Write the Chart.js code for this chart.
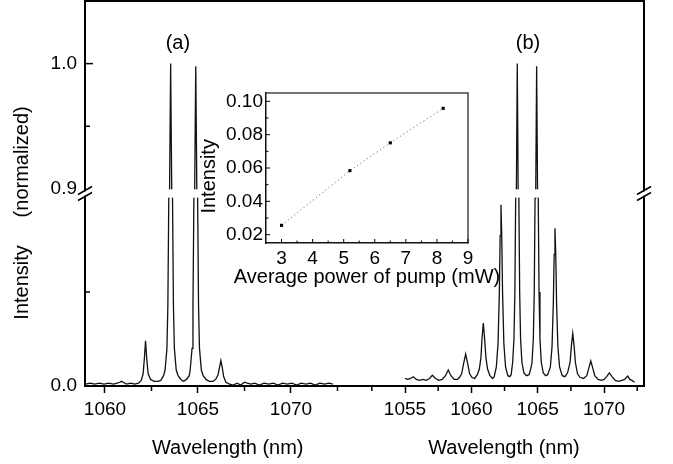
<!DOCTYPE html>
<html><head><meta charset="utf-8">
<script src="https://cdn.jsdelivr.net/npm/chart.js@4.4.1/dist/chart.umd.min.js"></script>
<style>
html,body{margin:0;padding:0;background:#fff;}
#wrap{position:relative;width:673px;height:464px;overflow:hidden;}
#main{position:absolute;left:0;top:0;}
#inset{position:absolute;left:195px;top:85px;}
</style></head><body>
<div id="wrap"><canvas id="main" width="673" height="464"></canvas><canvas id="inset" width="320" height="210"></canvas></div>
<script>
// ---------- DATA ----------
// Panel (a): wavelength (nm) and normalized intensity
const specA_wl = [
 1058.95,1059.2,1059.45,1059.7,1059.95,1060.2,1060.45,1060.65,1060.8,1060.88,
 1060.98,1061.15,1061.4,1061.6,1061.8,1061.95,1062.05,1062.12,1062.18,1062.24,
 1062.32,1062.45,1062.65,1062.85,1063.0,1063.15,1063.23,1063.33,1063.38,1063.43,
 1063.47,1063.53,1063.59,1063.63,1063.68,1063.73,1063.83,1063.93,1064.08,1064.22,
 1064.38,1064.53,1064.58,1064.68,1064.73,1064.78,1064.82,1064.88,1064.94,1064.98,
 1065.03,1065.08,1065.18,1065.28,1065.43,1065.6,1065.8,1065.95,1066.08,1066.16,
 1066.23,1066.3,1066.38,1066.5,1066.7,1066.9,1067.1,1067.3,1067.5,1067.65,
 1067.85,1068.05,1068.3,1068.55,1068.8,1069.05,1069.3,1069.55,1069.8,1070.05,
 1070.3,1070.55,1070.8,1071.05,1071.3,1071.55,1071.8,1072.05,1072.25];
const specA_int = [
 0.002,0.003,0.002,0.003,0.002,0.003,0.002,0.003,0.004,0.005,
 0.004,0.002,0.003,0.002,0.003,0.006,0.013,0.03,0.048,0.03,
 0.013,0.007,0.005,0.005,0.006,0.011,0.017,0.04,0.085,0.2,
 0.45,1.0,0.45,0.2,0.085,0.04,0.017,0.011,0.007,0.005,
 0.007,0.011,0.017,0.04,0.085,0.2,0.45,0.998,0.45,0.2,
 0.085,0.04,0.017,0.011,0.007,0.005,0.005,0.007,0.012,0.02,
 0.027,0.02,0.01,0.004,0.002,0.001,0.003,0.001,0.004,0.003,
 0.002,0.003,0.001,0.003,0.002,0.003,0.001,0.003,0.002,0.003,
 0.001,0.003,0.002,0.003,0.001,0.003,0.002,0.003,0.002];
// Panel (b)
const specB_wl = [
 1055.0,1055.2,1055.4,1055.63,1055.85,1056.1,1056.35,1056.6,1056.85,1057.06,
 1057.3,1057.55,1057.8,1058.05,1058.26,1058.46,1058.7,1058.95,1059.1,1059.27,
 1059.42,1059.57,1059.72,1059.87,1060.05,1060.25,1060.45,1060.6,1060.72,1060.8,
 1060.9,1061.0,1061.1,1061.22,1061.4,1061.6,1061.72,1061.88,1062.01,1062.11,
 1062.17,1062.23,1062.29,1062.35,1062.45,1062.58,1062.75,1062.9,1063.0,1063.11,
 1063.21,1063.28,1063.34,1063.39,1063.46,1063.53,1063.58,1063.64,1063.71,1063.81,
 1063.96,1064.15,1064.35,1064.47,1064.57,1064.67,1064.74,1064.8,1064.85,1064.92,
 1064.99,1065.04,1065.1,1065.17,1065.27,1065.42,1065.6,1065.75,1065.95,1066.08,
 1066.18,1066.24,1066.3,1066.36,1066.42,1066.52,1066.65,1066.85,1067.05,1067.25,
 1067.44,1067.54,1067.64,1067.74,1067.84,1068.0,1068.2,1068.45,1068.7,1068.85,
 1069.0,1069.15,1069.3,1069.55,1069.8,1070.0,1070.2,1070.4,1070.6,1070.85,
 1071.1,1071.35,1071.55,1071.78,1071.95,1072.1,1072.3];
const specB_int = [
 0.008,0.007,0.008,0.0099,0.007,0.006,0.007,0.006,0.008,0.0115,
 0.008,0.006,0.007,0.011,0.017,0.011,0.007,0.007,0.009,0.013,
 0.024,0.034,0.024,0.013,0.009,0.008,0.012,0.018,0.03,0.05,
 0.067,0.05,0.03,0.018,0.011,0.008,0.01,0.02,0.045,0.1,
 0.16,0.193,0.16,0.1,0.045,0.02,0.011,0.01,0.012,0.025,
 0.05,0.1,0.2,0.45,1.0,0.45,0.2,0.1,0.05,0.025,
 0.014,0.011,0.012,0.018,0.025,0.05,0.1,0.2,0.45,0.998,
 0.45,0.2,0.1,0.05,0.025,0.014,0.011,0.012,0.02,0.042,
 0.09,0.14,0.168,0.14,0.09,0.042,0.02,0.011,0.01,0.014,
 0.025,0.043,0.056,0.043,0.025,0.013,0.009,0.008,0.011,0.019,
 0.0266,0.019,0.011,0.007,0.006,0.007,0.01,0.014,0.01,0.006,
 0.005,0.006,0.007,0.0106,0.007,0.006,0.004];
// Inset
const pumpPower = [3.0, 5.2, 6.5, 8.2];
const insetIntensity = [0.0256, 0.0584, 0.0751, 0.0958];

// Tick values / labels
const xTicksA = [1060, 1065, 1070];
const xMinorA = [1062.5, 1067.5, 1072.5];
const xTicksB = [1055, 1060, 1065, 1070];
const xMinorB = [1052.5, 1057.5, 1062.5, 1067.5, 1072.5];
const yTicks = [0, 0.9, 1.0];
const yTickLabels = ['0.0', '0.9', '1.0'];
const yMinor = [0.1, 0.95];
const insetXTicks = [3, 4, 5, 6, 7, 8, 9];
const insetXMinor = [3.5, 4.5, 5.5, 6.5, 7.5, 8.5];
const insetYTicks = [0.02, 0.04, 0.06, 0.08, 0.10];
const insetYMinor = [0.03, 0.05, 0.07, 0.09];

// ---------- SETUP ----------
const FONT = '"Liberation Sans", Arial, Helvetica, sans-serif';
Chart.defaults.font.family = FONT;
Chart.defaults.color = '#000';

// broken y axis: [0,0.2] lower, [0.9,1.05] upper
const Y_LOW_MAX = 0.2, Y_HIGH_MIN = 0.9, Y_MAX = 1.05, LOW_FRAC = 0.488, HIGH_START = 0.512;
function brokenFrac(v){
  if (v <= Y_LOW_MAX) return v / Y_LOW_MAX * LOW_FRAC;
  if (v >= Y_HIGH_MIN) return HIGH_START + (v - Y_HIGH_MIN) / (Y_MAX - Y_HIGH_MIN) * (1 - HIGH_START);
  return LOW_FRAC + (v - Y_LOW_MAX) / (Y_HIGH_MIN - Y_LOW_MAX) * (HIGH_START - LOW_FRAC);
}
function brokenInv(f){
  if (f <= LOW_FRAC) return f / LOW_FRAC * Y_LOW_MAX;
  if (f >= HIGH_START) return Y_HIGH_MIN + (f - HIGH_START) / (1 - HIGH_START) * (Y_MAX - Y_HIGH_MIN);
  return Y_LOW_MAX + (f - LOW_FRAC) / (HIGH_START - LOW_FRAC) * (Y_HIGH_MIN - Y_LOW_MAX);
}
class BrokenScale extends Chart.LinearScale {
  getPixelForValue(v){ return this.bottom - brokenFrac(v) * (this.bottom - this.top); }
  getValueForPixel(p){ return brokenInv((this.bottom - p) / (this.bottom - this.top)); }
}
BrokenScale.id = 'broken';
BrokenScale.defaults = Chart.LinearScale.defaults;
Chart.register(BrokenScale);

const pts = (xs, ys) => xs.map((x, i) => ({x: x, y: ys[i]}));
function seg(ctx, x1, y1, x2, y2){ ctx.beginPath(); ctx.moveTo(x1, y1); ctx.lineTo(x2, y2); ctx.stroke(); }
function noPad(s){ s.paddingTop = 0; s.paddingBottom = 0; s.paddingLeft = 0; s.paddingRight = 0; }

const mainDecor = {
  id: 'mainDecor',
  afterLayout(chart){
    const a = chart.scales.x, b = chart.scales.x2;
    b.top = a.top; b.bottom = a.bottom; b.height = a.height;
  },
  afterDraw(chart){
    const ctx = chart.ctx, ca = chart.chartArea;
    const x = chart.scales.x, x2 = chart.scales.x2, y = chart.scales.y;
    ctx.save();
    const yHi = y.getPixelForValue(Y_HIGH_MIN), yLo = y.getPixelForValue(Y_LOW_MAX);
    ctx.fillStyle = '#fff';
    ctx.fillRect(ca.left + 1.5, yHi + 0.5, ca.right - ca.left - 3, yLo - yHi - 1);
    ctx.strokeStyle = '#000';
    ctx.lineWidth = 2;
    ctx.beginPath(); ctx.moveTo(ca.left - 1, ca.top); ctx.lineTo(ca.right, ca.top); ctx.lineTo(ca.right, ca.bottom + 1); ctx.stroke();
    ctx.lineWidth = 1.5;
    xMinorA.forEach(v => { const p = x.getPixelForValue(v); seg(ctx, p, ca.bottom + 1, p, ca.bottom + 5); });
    xMinorB.forEach(v => { const p = x2.getPixelForValue(v); seg(ctx, p, ca.bottom + 1, p, ca.bottom + 5); });
    [1.0].forEach(v => { const p = y.getPixelForValue(v); seg(ctx, ca.left + 1, p, ca.left + 8, p); });
    yMinor.forEach(v => { const p = y.getPixelForValue(v); seg(ctx, ca.left + 1, p, ca.left + 5, p); });
    // axis break marks
    const yc = (yHi + yLo) / 2;
    [ca.left, ca.right].forEach(x0 => {
      ctx.fillStyle = '#fff';
      ctx.beginPath();
      ctx.moveTo(x0 - 7, yc + 6); ctx.lineTo(x0 + 7, yc - 2); ctx.lineTo(x0 + 7, yc - 6); ctx.lineTo(x0 - 7, yc + 2); ctx.closePath();
      ctx.fill();
      ctx.lineWidth = 1.5; ctx.strokeStyle = '#000';
      seg(ctx, x0 - 7, yc + 7, x0 + 7, yc - 1);
      seg(ctx, x0 - 7, yc + 1, x0 + 7, yc - 7);
    });
    ctx.fillStyle = '#000';
    ctx.font = '20px ' + FONT;
    ctx.textAlign = 'center';
    ctx.textBaseline = 'alphabetic';
    ctx.fillText('Wavelength (nm)', x.getPixelForValue(1066.6), 453.5);
    ctx.fillText('Wavelength (nm)', x2.getPixelForValue(1062.46), 453.5);
    ctx.fillText('(a)', x.getPixelForValue(1063.92), 49);
    ctx.fillText('(b)', x2.getPixelForValue(1064.27), 49);
    ctx.restore();
  }
};

const lineStyle = {borderColor: '#111', borderWidth: 1.3, pointRadius: 0, tension: 0, fill: false};

new Chart(document.getElementById('main'), {
  type: 'line',
  data: { datasets: [
    Object.assign({data: pts(specA_wl, specA_int), xAxisID: 'x', yAxisID: 'y'}, lineStyle),
    Object.assign({data: pts(specB_wl, specB_int), xAxisID: 'x2', yAxisID: 'y'}, lineStyle)
  ]},
  options: {
    responsive: false, animation: false, devicePixelRatio: 1,
    layout: {padding: {top: 1, right: 29, bottom: 0, left: 0}},
    plugins: {legend: {display: false}, tooltip: {enabled: false}},
    scales: {
      x: {
        type: 'linear', position: 'bottom', min: 1058.925, max: 1088.98,
        afterFit: s => { s.height = 78; noPad(s); },
        afterBuildTicks: s => { s.ticks = xTicksA.map(v => ({value: v})); },
        grid: {display: true, drawOnChartArea: false, drawTicks: true, tickLength: 7, tickColor: '#000', tickWidth: 1.5},
        border: {display: true, color: '#000', width: 2},
        ticks: {autoSkip: false, maxRotation: 0, padding: 5, font: {size: 19}, color: '#000', callback: v => String(v)}
      },
      x2: {
        type: 'linear', position: 'bottom', min: 1030.885, max: 1073.01,
        afterFit: s => { s.height = 0; noPad(s); },
        afterBuildTicks: s => { s.ticks = xTicksB.map(v => ({value: v})); },
        grid: {display: true, drawOnChartArea: false, drawTicks: true, tickLength: 7, tickColor: '#000', tickWidth: 1.5},
        border: {display: true, color: '#000', width: 2},
        ticks: {autoSkip: false, maxRotation: 0, padding: 5, font: {size: 19}, color: '#000', callback: v => String(v)}
      },
      y: {
        type: 'broken', position: 'left', min: 0, max: Y_MAX,
        afterFit: s => { s.width = 85; noPad(s); },
        afterBuildTicks: s => { s.ticks = yTicks.map(v => ({value: v})); },
        grid: {display: false, drawTicks: false},
        border: {display: true, color: '#000', width: 2},
        ticks: {autoSkip: false, padding: 8, font: {size: 19}, color: '#000',
          callback: v => { const i = yTicks.indexOf(v); return i >= 0 ? yTickLabels[i] : ''; }},
        title: {display: true, text: 'Intensity     (normalized)       ', font: {size: 20}, color: '#000', padding: {top: 10, bottom: 0}}
      }
    }
  },
  plugins: [mainDecor]
});

// ---------- INSET ----------
const insetDecor = {
  id: 'insetDecor',
  afterDraw(chart){
    const ctx = chart.ctx, ca = chart.chartArea, x = chart.scales.x, y = chart.scales.y;
    ctx.save();
    ctx.strokeStyle = '#444'; ctx.lineWidth = 1.5;
    ctx.beginPath(); ctx.moveTo(ca.left, ca.top); ctx.lineTo(ca.right, ca.top); ctx.lineTo(ca.right, ca.bottom); ctx.stroke();
    ctx.strokeStyle = '#000'; ctx.lineWidth = 1;
    insetXTicks.forEach(v => { const p = x.getPixelForValue(v); seg(ctx, p, ca.bottom, p, ca.bottom - 4); });
    insetXMinor.forEach(v => { const p = x.getPixelForValue(v); seg(ctx, p, ca.bottom, p, ca.bottom - 2.5); });
    insetYTicks.forEach(v => { const p = y.getPixelForValue(v); seg(ctx, ca.left, p, ca.left + 4, p); });
    insetYMinor.forEach(v => { const p = y.getPixelForValue(v); seg(ctx, ca.left, p, ca.left + 2.5, p); });
    ctx.fillStyle = '#000';
    ctx.font = '20px ' + FONT;
    ctx.textAlign = 'center';
    ctx.textBaseline = 'alphabetic';
    ctx.fillText('Average power of pump (mW)', (ca.left + ca.right) / 2, ca.bottom + 39.5);
    ctx.restore();
  }
};

new Chart(document.getElementById('inset'), {
  type: 'line',
  data: { datasets: [{
    data: pts(pumpPower, insetIntensity),
    borderColor: '#8a8a8a', borderWidth: 1, borderDash: [1.5, 2.5], tension: 0, fill: false,
    pointStyle: 'rect', pointRadius: 2.2, pointBackgroundColor: '#000', pointBorderColor: '#000', pointBorderWidth: 0
  }]},
  options: {
    responsive: false, animation: false, devicePixelRatio: 1,
    layout: {padding: {top: 8, right: 47, bottom: 0, left: 0}},
    plugins: {legend: {display: false}, tooltip: {enabled: false}},
    scales: {
      x: {
        type: 'linear', position: 'bottom', min: 2.5, max: 9,
        afterFit: s => { s.height = 52; noPad(s); },
        afterBuildTicks: s => { s.ticks = insetXTicks.map(v => ({value: v})); },
        grid: {display: false, drawTicks: false},
        border: {display: true, color: '#111', width: 1.5},
        ticks: {autoSkip: false, maxRotation: 0, padding: 4, font: {size: 19}, color: '#000', callback: v => String(v)}
      },
      y: {
        type: 'linear', position: 'left', min: 0.015, max: 0.105,
        afterFit: s => { s.width = 71; noPad(s); },
        afterBuildTicks: s => { s.ticks = insetYTicks.map(v => ({value: v})); },
        grid: {display: false, drawTicks: false},
        border: {display: true, color: '#111', width: 1.5},
        ticks: {autoSkip: false, padding: 3, font: {size: 19}, color: '#000', callback: v => v.toFixed(2)},
        title: {display: true, text: 'Intensity   ', font: {size: 20}, color: '#000', padding: {top: 2, bottom: 0}}
      }
    }
  },
  plugins: [insetDecor]
});
</script>
</body></html>
